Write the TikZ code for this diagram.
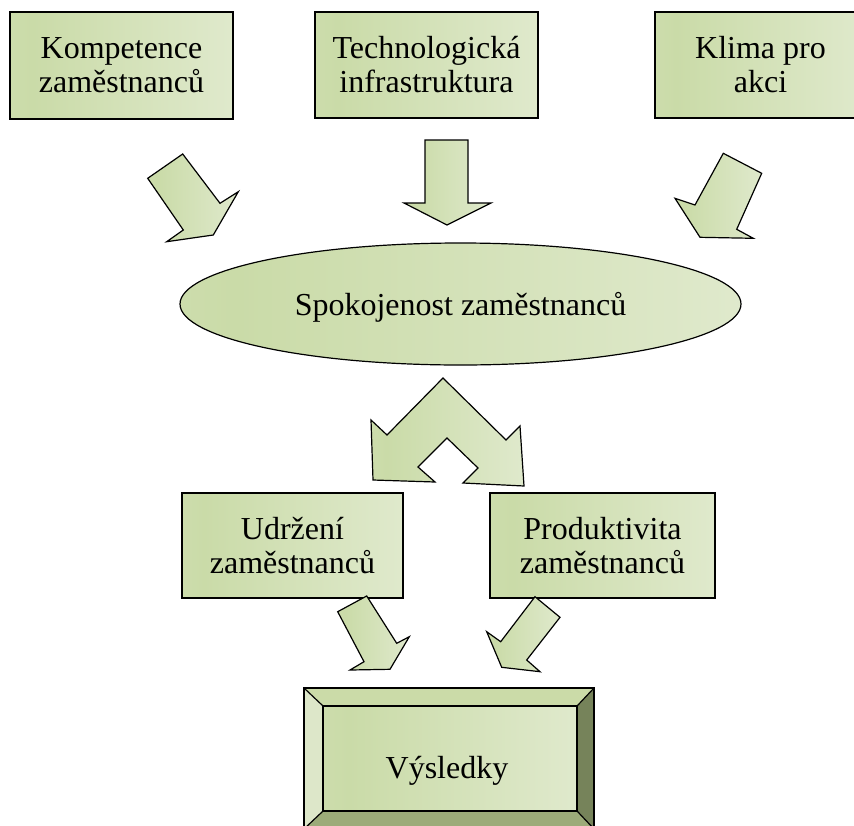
\documentclass[tikz,border=0pt]{standalone}
\usepackage{fontspec}
\setmainfont{Liberation Serif}
\usetikzlibrary{shapes.geometric}
\definecolor{gA}{RGB}{202,219,168}
\definecolor{gB}{RGB}{235,241,224}
\definecolor{gM}{RGB}{218,230,194}
\definecolor{bvTop}{RGB}{203,219,168}
\definecolor{bvRight}{RGB}{118,131,90}
\definecolor{bvBottom}{RGB}{156,171,121}
\definecolor{bvLeft}{RGB}{221,231,201}
\pgfdeclarehorizontalshading{gshade}{100bp}{color(0bp)=(gM); color(30bp)=(gA); color(100bp)=(gB)}
\begin{document}
\begin{tikzpicture}[x=1pt,y=-1pt,
  lbl/.style={font=\fontsize{32}{34}\selectfont, align=center},
  greenbox/.style={draw=black, line width=1.2pt, shade, shading=gshade, rectangle, lbl, inner sep=0pt},
  blockarrow/.style={draw=black, line width=1.2pt, shade, shading=gshade, line join=miter},
  outline/.style={draw=black, line width=1.2pt, line join=miter},
]
\useasboundingbox (0,0) rectangle (854,825);

% top row boxes
\node[greenbox, minimum width=223pt, minimum height=107pt] (komp) at (121.5,65.5) {Kompetence\\zaměstnanců};
\node[greenbox, minimum width=223pt, minimum height=106pt] (tech) at (426.5,65) {Technologická\\infrastruktura};
\node[greenbox, minimum width=211pt, minimum height=106pt] (klima) at (760.5,65) {Klima pro\\akci};

% top arrows
\path[blockarrow] (147.7,178.3) -- (182.7,154) -- (220,203.3) -- (238.3,191.7) -- (213.3,235) -- (166.7,241.7) -- (183.3,230) -- cycle;
\path[blockarrow] (425,140) -- (468,140) -- (468,203) -- (491,203) -- (447,225) -- (404,203) -- (425,203) -- cycle;
\path[blockarrow] (723.3,153.3) -- (761.7,173.3) -- (736.7,229.3) -- (753.3,238.3) -- (700,237.3) -- (675,198.3) -- (695,205) -- cycle;

% ellipse
\node[draw=black, ellipse, minimum width=561pt, minimum height=122pt, inner sep=0pt,
      shade, shading=gshade, line width=1.2pt, lbl, text depth=0pt] (spok) at (460.5,304) {Spokojenost zaměstnanců};

% chevron double arrow
\path[blockarrow] (443,378) -- (506,440) -- (520,426) -- (524,486) -- (463,483) -- (478,468) -- (447,438)
  -- (418,467) -- (435,482) -- (373,480) -- (371,420) -- (387,435) -- cycle;

% lower boxes
\node[greenbox, minimum width=221pt, minimum height=105pt] (udrz) at (292.5,545.5) {Udržení\\zaměstnanců};
\node[greenbox, minimum width=225pt, minimum height=105pt] (prod) at (602.5,545.5) {Produktivita\\zaměstnanců};

% lower arrows
\path[blockarrow] (337.7,611.7) -- (366.7,596) -- (396.7,643.3) -- (409.3,636.7) -- (390,669.3) -- (350,670) -- (364,661.7) -- cycle;
\path[blockarrow] (535,596.7) -- (560,617.3) -- (526.7,660) -- (540,671.7) -- (501.7,667.3) -- (486.7,631.7) -- (500.7,641.7) -- cycle;

% bevel box
\fill[bvTop] (304,688) -- (594,688) -- (577,706) -- (323,706) -- cycle;
\fill[bvRight] (594,688) -- (594,829) -- (577,811) -- (577,706) -- cycle;
\fill[bvBottom] (304,829) -- (594,829) -- (577,811) -- (323,811) -- cycle;
\fill[bvLeft] (304,688) -- (323,706) -- (323,811) -- (304,829) -- cycle;
\node[greenbox, minimum width=254pt, minimum height=105pt] (vys) at (450,758.5) {};
\draw[outline] (304,688) rectangle (594,829);
\draw[outline] (304,688) -- (vys.north west) (594,688) -- (vys.north east)
  (594,829) -- (vys.south east) (304,829) -- (vys.south west);
\node[lbl, anchor=base] (vystext) at (447,778) {Výsledky};
\end{tikzpicture}
\end{document}
